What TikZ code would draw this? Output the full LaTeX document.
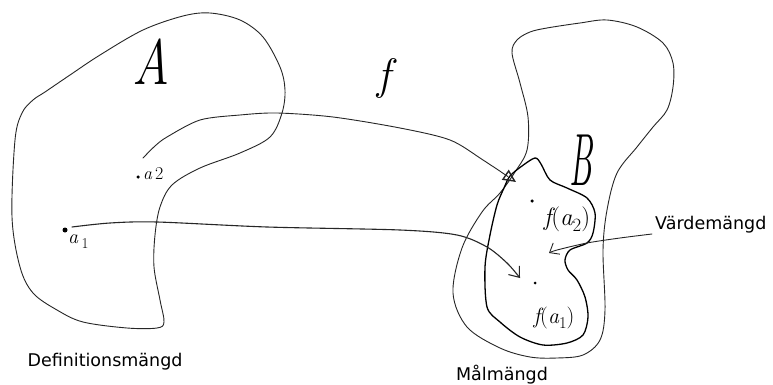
\documentclass[tikz,border=0pt]{standalone}
\usepackage{fontspec}
\newfontfamily\labelfont{DejaVu Sans}
\usetikzlibrary{arrows.meta}
\newcommand{\handsub}[1]{\raisebox{-0.25em}{\scalebox{0.75}{\upshape #1}}}
\tikzset{
  thinpen/.style={line width=0.9pt, black!85, line cap=round, line join=round},
  thickpen/.style={line width=1.5pt, black, line cap=round, line join=round},
  caption/.style={font=\labelfont\fontsize{17.5}{20}\selectfont, inner sep=0pt},
  hand/.style={inner sep=0pt},
  ptdot/.style={circle, fill=black, inner sep=0pt, minimum size=#1},
}
\begin{document}
\begin{tikzpicture}[x=1pt,y=-1pt]
\useasboundingbox[fill=white] (0,0) rectangle (773,385);

% Set A
\draw[thinpen] plot[smooth cycle, tension=0.55] coordinates {
 (15,140) (22,113) (33,100) (45,92) (70,75) (100,55) (143,30) (183,16) (210,13)
 (240,20) (263,37) (280,67) (285,90) (282,113) (270,137) (240,153) (200,168)
 (172,185) (160,207) (155,235) (154,267) (160,300) (164,322) (157,328) (127,328)
 (83,322) (57,310) (33,293) (20,267) (12,217)};

% Set B (outer)
\draw[thinpen] plot[smooth cycle, tension=0.55] coordinates {
 (547,28) (580,23) (607,20) (637,27) (663,43) (673,63) (673,87) (667,110)
 (653,127) (637,147) (617,173) (607,210) (603,250) (605,310) (600,340) (583,355)
 (557,358) (530,357) (500,348) (467,327) (453,293) (462,248) (482,212) (500,193)
 (515,172) (527,150) (528,117) (520,83) (512,53) (517,40) (530,32)};

% Range (inner)
\draw[thickpen, line width=1.3pt] plot[smooth cycle, tension=0.5] coordinates {
 (510,176) (522,166) (535,158) (541,164) (550,180) (567,188) (587,198) (595,213)
 (593,233) (587,243) (570,250) (565,260) (568,270) (577,280) (585,297) (588,317)
 (583,335) (567,343) (543,345) (520,337) (500,322) (487,307) (485,267) (490,235)
 (497,205) (504,188)};

% points
\node[ptdot=5pt] (a1) at (65,230) {};
\node[ptdot=3.5pt] (a2) at (138,177) {};
\node[ptdot=3.5pt] (fa2) at (532,201) {};
\node[ptdot=3pt] (fa1) at (535,283) {};

\coordinate (a1s) at (72,227);
\coordinate (a1e) at (520,278);
\coordinate (a2s) at (143,158);
\coordinate (a2e) at (516,182);
\coordinate (vs) at (652,234);
\coordinate (ve) at (549,253);

% arrows
\draw[thinpen, line width=1.1pt, -{Straight Barb[length=9pt,width=14pt]}] plot[smooth, tension=0.5] coordinates {
 (a1s) (110,223) (157,222) (267,227) (400,230) (457,235) (487,247) (507,263) (a1e)};
\draw[thinpen, -{Triangle[open,length=13pt,width=12pt,line width=1.4pt]}] plot[smooth, tension=0.5] coordinates {
 (a2s) (155,146) (167,137) (200,120) (240,115) (277,113) (333,117) (400,128) (450,140) (483,160) (a2e)};
\draw[thinpen, -{Straight Barb[length=8pt,width=13pt]}] plot[smooth, tension=0.5] coordinates {
 (vs) (620,238) (587,243) (557,250) (ve)};

% handwritten-like labels
\node[hand, font=\fontsize{64}{64}\selectfont\itshape, xscale=0.8] (A) at (151,62) {A};
\node[hand, font=\fontsize{44}{44}\selectfont\itshape] (f) at (384,79) {f};
\node[hand, font=\fontsize{74}{74}\selectfont\itshape, xscale=0.45] (B) at (581,160) {B};
\node[hand, font=\fontsize{20}{20}\selectfont\itshape, anchor=west] (la1) at (68,242) {a\,\handsub{1}};
\node[hand, font=\fontsize{18}{18}\selectfont\itshape, anchor=west] (la2) at (143,174) {a\,\upshape 2};
\node[hand, font=\fontsize{25}{25}\selectfont\itshape] (lfa2) at (567,219) {f\upshape(\itshape a\handsub{2}\upshape)};
\node[hand, font=\fontsize{22}{22}\selectfont\itshape] (lfa1) at (554,318) {f\upshape(\itshape a\handsub{1}\upshape)};

% captions
\node[caption] (dom) at (105,362) {Definitionsmängd};
\node[caption] (cod) at (502,375) {Målmängd};
\node[caption, anchor=west] (rng) at (655,225) {Värdemängd};
\end{tikzpicture}
\end{document}
